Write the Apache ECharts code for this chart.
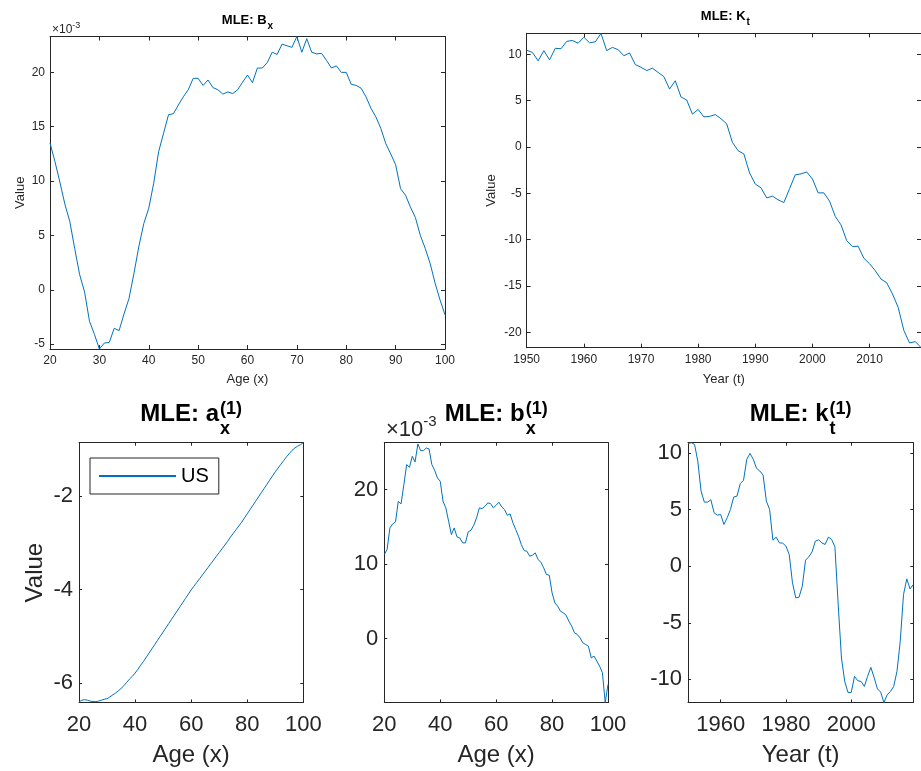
<!DOCTYPE html>
<html><head><meta charset="utf-8">
<script src="https://cdn.jsdelivr.net/npm/echarts@6/dist/echarts.min.js"></script>
<style>html,body{margin:0;padding:0;background:#fff}#c{width:921px;height:771px}</style>
</head><body><div id="c"></div>
<script>
// ---------------- data ----------------
const AGE_START = 20, AGE_END = 100;
const YEAR_START = 1950, YEAR_END = 2019;

// MLE: B_x (values in units of 10^-3), ages 20..100
const bxTop = [13.5, 11.8, 9.9, 7.9, 6.3, 3.8, 1.4, -0.2, -2.9, -4.1,
  -5.45, -4.9, -4.85, -3.55, -3.75, -2.2, -0.8, 1.5, 4.0, 6.1,
  7.5, 9.8, 12.7, 14.4, 16.1, 16.2, 17.0, 17.75, 18.4, 19.45,
  19.45, 18.8, 19.3, 18.6, 18.4, 18.0, 18.2, 18.05, 18.4, 19.1,
  19.75, 19.05, 20.4, 20.4, 20.9, 21.85, 21.65, 22.6, 22.45, 22.3,
  23.3, 21.85, 23.1, 21.85, 21.7, 21.75, 21.1, 20.4, 20.6, 20.0,
  20.0, 18.9, 18.8, 18.55, 17.75, 16.7, 15.9, 14.85, 13.45, 12.5,
  11.5, 9.3, 8.7, 7.6, 6.65, 5.0, 3.8, 2.4, 0.6, -0.95,
  -2.3];

// MLE: K_t, years 1950..2019
const ktTop = [10.45, 10.2, 9.3, 10.4, 9.4, 10.65, 10.6, 11.4, 11.5, 11.2,
  11.85, 11.25, 11.35, 12.25, 10.4, 10.75, 10.5, 9.85, 10.15, 8.9,
  8.6, 8.25, 8.5, 8.05, 7.6, 6.25, 7.15, 5.4, 5.07, 3.55,
  4.05, 3.25, 3.3, 3.5, 3.05, 2.5, 0.5, -0.4, -0.75, -2.8,
  -4.0, -4.4, -5.5, -5.3, -5.7, -6.0, -4.5, -3.0, -2.9, -2.7,
  -3.45, -4.95, -4.95, -5.85, -7.5, -8.4, -10.1, -10.75, -10.7, -12.0,
  -12.6, -13.35, -14.25, -14.65, -15.85, -17.3, -19.8, -21.15, -21.0, -21.65];

// MLE: a_x^(1), ages 20..100
const axBottom = [-6.41, -6.37, -6.36, -6.37, -6.39, -6.40, -6.40, -6.39, -6.37, -6.35,
  -6.34, -6.30, -6.26, -6.22, -6.17, -6.12, -6.06, -5.99, -5.92, -5.86,
  -5.79, -5.71, -5.62, -5.54, -5.45, -5.36, -5.27, -5.18, -5.09, -5.00,
  -4.91, -4.82, -4.73, -4.64, -4.55, -4.46, -4.37, -4.28, -4.19, -4.10,
  -4.01, -3.93, -3.85, -3.77, -3.69, -3.61, -3.53, -3.45, -3.37, -3.29,
  -3.21, -3.13, -3.05, -2.97, -2.88, -2.80, -2.72, -2.64, -2.56, -2.47,
  -2.38, -2.29, -2.20, -2.11, -2.02, -1.93, -1.84, -1.75, -1.66, -1.57,
  -1.48, -1.40, -1.32, -1.24, -1.16, -1.09, -1.02, -0.97, -0.93, -0.90,
  -0.857];

// MLE: b_x^(1) (units of 10^-3), ages 20..100
const bxBottom = [11.27, 11.95, 14.85, 15.39, 15.66, 18.43, 18.08, 20.67, 23.36, 23.0,
  24.47, 23.71, 26.13, 25.23, 25.23, 25.59, 25.46, 23.36, 22.6, 21.57,
  21.12, 18.43, 17.54, 15.75, 13.96, 14.85, 13.65, 13.51, 12.84, 12.84,
  14.32, 14.54, 15.21, 16.2, 17.54, 17.45, 17.76, 18.21, 18.12, 17.54,
  17.9, 18.3, 17.67, 17.32, 16.55, 16.73, 15.53, 14.63, 13.74, 12.62,
  11.81, 11.72, 11.05, 11.19, 11.5, 10.6, 10.25, 9.49, 8.59, 8.5,
  6.13, 4.79, 4.34, 3.67, 3.45, 3.13, 2.33, 1.66, 0.76, 0.54,
  0.09, -0.58, -0.81, -1.03, -2.6, -2.37, -3.04, -3.71, -4.61, -8.6,
  -6.17];

// MLE: k_t^(1), years 1950..2019
const ktBottom = [10.83, 10.91, 10.77, 9.29, 6.64, 5.66, 5.66, 5.87, 4.72, 4.51,
  4.57, 3.69, 4.28, 5.01, 6.11, 6.19, 7.29, 7.58, 9.44, 9.97,
  9.44, 8.64, 8.41, 8.05, 5.75, 5.01, 2.30, 2.57, 2.06, 2.04,
  1.77, 1.03, -1.47, -2.80, -2.74, -1.77, 0.53, 0.83, 1.27, 2.21,
  2.33, 2.06, 1.92, 2.57, 2.36, 1.71, -3.39, -8.11, -10.18, -11.15,
  -11.15, -9.73, -10.12, -10.18, -10.62, -9.73, -8.94, -9.82, -10.83, -11.12,
  -12.04, -11.36, -11.06, -10.62, -9.29, -6.64, -2.51, -1.12, -2.01, -1.62];

// tick values
const ageTicksTop = [20, 30, 40, 50, 60, 70, 80, 90, 100];
const yearTicksTop = [1950, 1960, 1970, 1980, 1990, 2000, 2010];
const bxTopTicks = [-5, 0, 5, 10, 15, 20];
const ktTopTicks = [-20, -15, -10, -5, 0, 5, 10];
const ageTicksBottom = [20, 40, 60, 80, 100];
const yearTicksBottom = [1960, 1980, 2000];
const axTicks = [-6, -4, -2];
const bxBottomTicks = [0, 10, 20];
const ktBottomTicks = [-10, -5, 0, 5, 10];

const ages = []; for (let a = AGE_START; a <= AGE_END; a++) ages.push(a);
const years = []; for (let y = YEAR_START; y <= YEAR_END; y++) years.push(y);
const pairs = (xs, ys) => xs.map((x, i) => [x, ys[i]]);

// ---------------- layout / style ----------------
const FONT = '"Liberation Sans", Arial, Helvetica, sans-serif';
const AX = '#262626';
const LINE = '#0072BD';

const grids = [
  { left: 50, top: 36.5, width: 395, height: 312.5 },
  { left: 526.7, top: 33.3, width: 397.3, height: 314.4 },
  { left: 79, top: 442.7, width: 224.3, height: 259.8 },
  { left: 384.3, top: 442.7, width: 223.7, height: 259.8 },
  { left: 688, top: 442.7, width: 225.3, height: 259.8 }
];

const panels = [
  { x: [AGE_START, AGE_END], y: [-5.45, 23.3], xt: ageTicksTop, yt: bxTopTicks, fs: 12, nfs: 13, tl: 4,
    xName: 'Age (x)', yName: 'Value', xGap: 24, yGap: 23.5, xm: 6, ym: 5 },
  { x: [YEAR_START, YEAR_END], y: [-21.66, 12.27], xt: yearTicksTop, yt: ktTopTicks, fs: 12, nfs: 13, tl: 4,
    xName: 'Year (t)', yName: 'Value', xGap: 25, yGap: 28.5, xm: 6, ym: 5 },
  { x: [AGE_START, AGE_END], y: [-6.42, -0.857], xt: ageTicksBottom, yt: axTicks, fs: 22, nfs: 24, tl: 3,
    xName: 'Age (x)', yName: 'Value', xGap: 41, yGap: 32, xm: 11, ym: 6 },
  { x: [AGE_START, AGE_END], y: [-8.6, 26.3], xt: ageTicksBottom, yt: bxBottomTicks, fs: 22, nfs: 24, tl: 3,
    xName: 'Age (x)', yName: '', xGap: 41, yGap: 32, xm: 11, ym: 6 },
  { x: [YEAR_START, YEAR_END], y: [-12.04, 10.91], xt: yearTicksBottom, yt: ktBottomTicks, fs: 22, nfs: 24, tl: 3,
    xName: 'Year (t)', yName: '', xGap: 41, yGap: 32, xm: 11, ym: 6 }
];

const xAxes = [], yAxes = [];
panels.forEach((p, gi) => {
  const line = { show: true, onZero: false, lineStyle: { color: AX, width: 1 } };
  const tick = (vals) => ({ show: true, inside: true, length: p.tl, customValues: vals, lineStyle: { color: AX, width: 1 } });
  const lbl = (vals, m) => ({ show: true, customValues: vals, fontSize: p.fs, color: AX, fontFamily: FONT, margin: m,
    formatter: v => String(v) });
  xAxes.push({ gridIndex: gi, type: 'value', position: 'bottom', min: p.x[0], max: p.x[1],
    axisLine: line, axisTick: tick(p.xt), axisLabel: lbl(p.xt, p.xm), splitLine: { show: false },
    name: p.xName, nameLocation: 'middle', nameGap: p.xGap,
    nameTextStyle: { fontSize: p.nfs, color: AX, fontFamily: FONT } });
  xAxes.push({ gridIndex: gi, type: 'value', position: 'top', min: p.x[0], max: p.x[1],
    axisLine: line, axisTick: tick(p.xt), axisLabel: { show: false }, splitLine: { show: false } });
  yAxes.push({ gridIndex: gi, type: 'value', position: 'left', min: p.y[0], max: p.y[1],
    axisLine: line, axisTick: tick(p.yt), axisLabel: lbl(p.yt, p.ym), splitLine: { show: false },
    name: p.yName, nameLocation: 'middle', nameGap: p.yGap, nameRotate: 90,
    nameTextStyle: { fontSize: p.nfs, color: AX, fontFamily: FONT } });
  yAxes.push({ gridIndex: gi, type: 'value', position: 'right', min: p.y[0], max: p.y[1],
    axisLine: line, axisTick: tick(p.yt), axisLabel: { show: false }, splitLine: { show: false } });
});

const seriesDefs = [
  { name: 'Bx', data: pairs(ages, bxTop) },
  { name: 'Kt', data: pairs(years, ktTop) },
  { name: 'US', data: pairs(ages, axBottom) },
  { name: 'bx', data: pairs(ages, bxBottom) },
  { name: 'kt', data: pairs(years, ktBottom) }
];
const series = seriesDefs.map((s, gi) => ({
  type: 'line', name: s.name, xAxisIndex: gi * 2, yAxisIndex: gi * 2, data: s.data,
  symbol: 'none', showSymbol: false, clip: true, animation: false,
  lineStyle: { color: LINE, width: 1 }, itemStyle: { color: LINE }
}));

// titles with sub/superscripts
const ctx = document.createElement('canvas').getContext('2d');
function tw(t, size, bold) { ctx.font = (bold ? 'bold ' : '') + size + 'px ' + FONT; return ctx.measureText(t).width; }
function title(cx, midY, main, sup, sub, fMain, fScr, supDy, subDy) {
  const wm = tw(main, fMain, true);
  const ws = Math.max(sup ? tw(sup, fScr, true) : 0, sub ? tw(sub, fScr, true) : 0);
  const x0 = cx - (wm + ws + 1) / 2;
  const els = [{ type: 'text', x: x0, y: midY, style: { text: main, fontSize: fMain, fontWeight: 'bold', fontFamily: FONT,
    fill: '#000', align: 'left', verticalAlign: 'middle' } }];
  if (sup) els.push({ type: 'text', x: x0 + wm + 1, y: midY + supDy, style: { text: sup, fontSize: fScr, fontWeight: 'bold',
    fontFamily: FONT, fill: '#000', align: 'left', verticalAlign: 'middle' } });
  if (sub) els.push({ type: 'text', x: x0 + wm + 1, y: midY + subDy, style: { text: sub, fontSize: fScr, fontWeight: 'bold',
    fontFamily: FONT, fill: '#000', align: 'left', verticalAlign: 'middle' } });
  return els;
}
function expo(x, midY, f1, f2, dy) {
  const w = tw('×10', f1, false);
  return [
    { type: 'text', x: x, y: midY, style: { text: '×10', fontSize: f1, fontFamily: FONT, fill: AX, align: 'left', verticalAlign: 'middle' } },
    { type: 'text', x: x + w, y: midY + dy, style: { text: '-3', fontSize: f2, fontFamily: FONT, fill: AX, align: 'left', verticalAlign: 'middle' } }
  ];
}
const gcx = g => g.left + g.width / 2;
const graphics = [].concat(
  title(gcx(grids[0]), 20.5, 'MLE: B', null, 'x', 13, 10, 0, 6),
  title(gcx(grids[1]), 16.7, 'MLE: K', null, 't', 13, 10, 0, 6),
  title(gcx(grids[2]), 414, 'MLE: a', '(1)', 'x', 24, 18, -5, 15),
  title(gcx(grids[3]), 414, 'MLE: b', '(1)', 'x', 24, 18, -5, 15),
  title(gcx(grids[4]), 414, 'MLE: k', '(1)', 't', 24, 18, -5, 15),
  expo(52, 30, 12, 9, -4),
  expo(386, 430, 22, 15, -8)
);

const chart = echarts.init(document.getElementById('c'), null, { renderer: 'canvas' });
chart.setOption({
  animation: false,
  backgroundColor: '#fff',
  grid: grids,
  xAxis: xAxes,
  yAxis: yAxes,
  series: series,
  legend: { data: ['US'], left: 90, top: 458, itemWidth: 77, itemHeight: 14, padding: [8, 10, 8, 8],
    borderColor: AX, borderWidth: 1, backgroundColor: '#fff', selectedMode: false,
    itemStyle: { opacity: 0 },
    textStyle: { fontSize: 20, color: '#000', fontFamily: FONT } },
  graphic: graphics
});
</script></body></html>
